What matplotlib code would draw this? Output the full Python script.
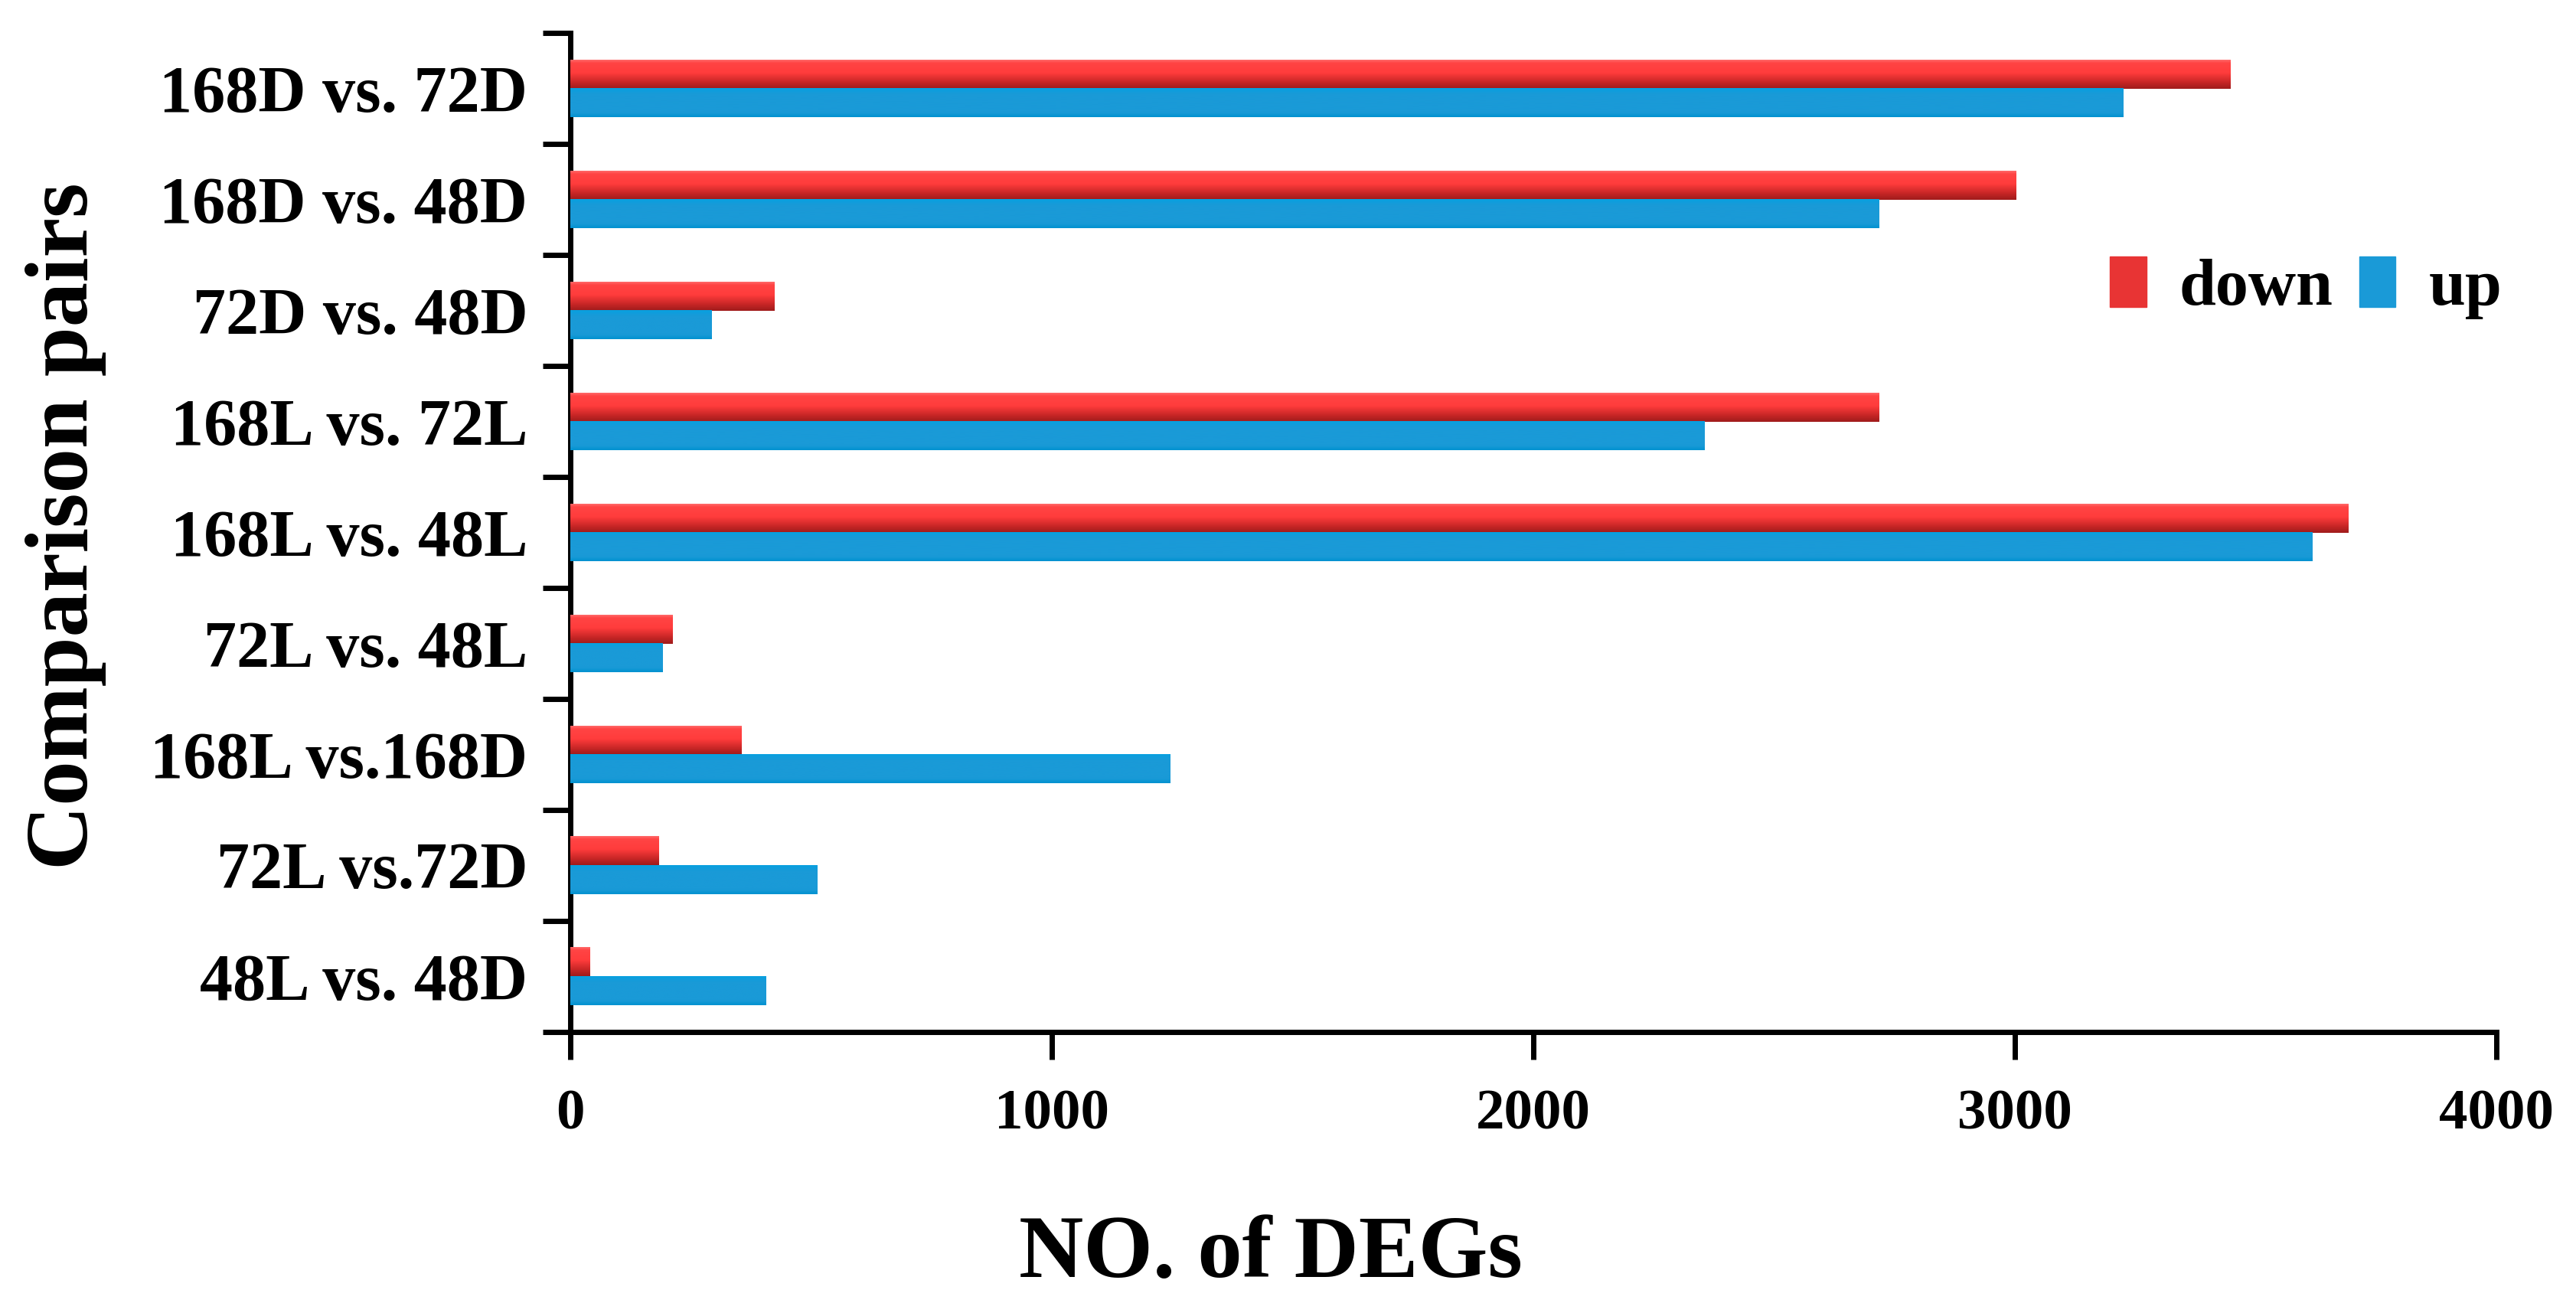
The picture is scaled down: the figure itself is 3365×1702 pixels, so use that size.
import matplotlib
matplotlib.use("Agg")
import matplotlib.pyplot as plt
import matplotlib.patches as mpatches
from matplotlib.colors import LinearSegmentedColormap
import numpy as np

plt.rcParams['font.family'] = ['Liberation Serif', 'DejaVu Serif']
plt.rcParams['font.weight'] = 'bold'

pairs = ['168D vs. 72D', '168D vs. 48D', '72D vs. 48D', '168L vs. 72L',
         '168L vs. 48L', '72L vs. 48L', '168L vs.168D', '72L vs.72D', '48L vs. 48D']
down = [3447, 3003, 423, 2717, 3693, 212, 355, 184, 41]
up = [3225, 2717, 294, 2355, 3618, 191, 1246, 512, 406]

fig = plt.figure(figsize=(33.66, 17.02), dpi=100)
ax = fig.add_axes([0.2213, 0.208, 0.7475, 0.7667])

n = len(pairs)
ypos = np.arange(n)[::-1]
h = 0.26

red_bars = ax.barh(ypos + h / 2, down, height=h, color='#f03636', linewidth=0, zorder=2)
blue_bars = ax.barh(ypos - h / 2, up, height=h, color='#1a9ad7', linewidth=0, zorder=2)

# shaded look on the red bars (light on top, dark at bottom edge)
red_cmap = LinearSegmentedColormap.from_list('redgrad', [(0, '#a01b1b'), (0.25, '#cc2828'),
                                                         (0.55, '#ff3c3c'), (0.9, '#ff4444'),
                                                         (1, '#ff6a6a')])
grad = np.linspace(0, 1, 64).reshape(-1, 1)
for p in red_bars:
    x0, y0 = p.get_x(), p.get_y()
    w, hh = p.get_width(), p.get_height()
    ax.imshow(grad, extent=[x0, x0 + w, y0, y0 + hh], origin='lower', aspect='auto',
              cmap=red_cmap, zorder=3, interpolation='bicubic')

blue_cmap = LinearSegmentedColormap.from_list('bluegrad', [(0, '#0092d0'), (0.15, '#1a9ad7'),
                                                           (0.8, '#1a9ad7'), (1, '#08a0e0')])
for p in blue_bars:
    x0, y0 = p.get_x(), p.get_y()
    w, hh = p.get_width(), p.get_height()
    ax.imshow(grad, extent=[x0, x0 + w, y0, y0 + hh], origin='lower', aspect='auto',
              cmap=blue_cmap, zorder=3, interpolation='bicubic')

ax.set_xlim(0, 4000)
ax.set_ylim(-0.5, n - 0.5)
ax.set_xticks([0, 1000, 2000, 3000, 4000])
ax.tick_params(axis='x', length=26, width=5, pad=28, labelsize=54, direction='out')

ax.set_yticks(np.arange(-0.5, n, 1))
ax.set_yticklabels([])
ax.set_yticks(ypos, minor=True)
ax.set_yticklabels(pairs, minor=True)
ax.tick_params(axis='y', which='major', length=26, width=5, direction='out')
ax.tick_params(axis='y', which='minor', length=0, pad=40, labelsize=62)

for s in ['top', 'right']:
    ax.spines[s].set_visible(False)
for s in ['left', 'bottom']:
    ax.spines[s].set_linewidth(5)

fig.text(0.493, 0.020, 'NO. of DEGs', fontsize=84, fontweight='bold', ha='center', va='baseline')
fig.text(0.0255, 0.596, 'Comparison pairs', fontsize=84, fontweight='bold', rotation=90,
         ha='center', va='center')

handles = [mpatches.Patch(color='#e83434', label='down'),
           mpatches.Patch(color='#1a9ad7', label='up')]
fig.legend(handles=handles, loc='center right', bbox_to_anchor=(0.994, 0.779), ncol=2,
           frameon=False, fontsize=62, handlelength=0.55, handleheight=0.8,
           handletextpad=0.5, columnspacing=0.4)

fig.savefig('out.png', dpi=100)
